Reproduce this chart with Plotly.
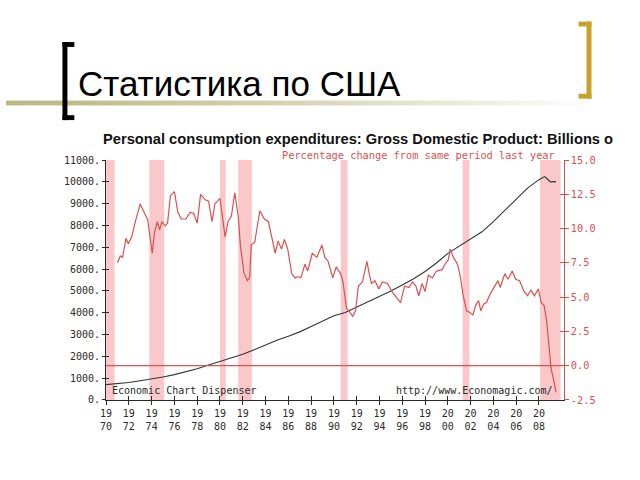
import plotly.graph_objects as go

# ---------------- data ----------------
pce_years = [1970, 1971, 1972, 1973, 1974, 1975, 1976, 1977, 1978, 1979,
             1980, 1981, 1982, 1983, 1984, 1985, 1986, 1987, 1988, 1989,
             1990, 1991, 1992, 1993, 1994, 1995, 1996, 1997, 1998, 1999,
             2000, 2001, 2002, 2003, 2004, 2005, 2006, 2007, 2008.0, 2008.5,
             2008.75, 2009.0, 2009.5]
pce_level = [700, 740, 800, 880, 960, 1050, 1160, 1280, 1430, 1600,
             1760, 1940, 2090, 2300, 2520, 2740, 2920, 3120, 3370, 3620,
             3860, 4010, 4250, 4490, 4760, 4990, 5270, 5560, 5890, 6280,
             6720, 7060, 7360, 7710, 8180, 8690, 9200, 9710, 10100, 10240,
             10130, 10000, 10010]

pct_years = [1971.0, 1971.25, 1971.45, 1971.75, 1971.95, 1972.25, 1972.6, 1973.0,
             1973.5, 1973.65, 1974.05, 1974.25, 1974.5, 1974.7, 1974.9, 1975.2,
             1975.4, 1975.65, 1976.0, 1976.3, 1976.6, 1977.0, 1977.4, 1977.7,
             1978.0, 1978.3, 1978.7, 1979.0, 1979.3, 1979.55, 1980.0, 1980.45,
             1980.7, 1981.0, 1981.3, 1981.6, 1981.8, 1982.1, 1982.4, 1982.6,
             1982.75, 1983.05, 1983.5, 1983.9, 1984.25, 1984.55, 1984.85, 1985.1,
             1985.4, 1985.65, 1985.95, 1986.3, 1986.6, 1986.9, 1987.1, 1987.45,
             1987.7, 1988.1, 1988.5, 1988.95, 1989.2, 1989.5, 1989.9, 1990.2,
             1990.6, 1990.8, 1991.1, 1991.4, 1991.65, 1991.9, 1992.15, 1992.5,
             1992.9, 1993.1, 1993.3, 1993.6, 1993.95, 1994.25, 1994.7, 1995.1,
             1995.5, 1995.85, 1996.2, 1996.6, 1996.9, 1997.2, 1997.45, 1997.75,
             1998.0, 1998.3, 1998.65, 1999.0, 1999.5, 1999.75, 2000.05, 2000.2,
             2000.5, 2000.85, 2001.1, 2001.35, 2001.65, 2001.9, 2002.2, 2002.45,
             2002.7, 2002.9, 2003.15, 2003.4, 2003.7, 2004.1, 2004.4, 2004.6,
             2005.0, 2005.3, 2005.65, 2005.95, 2006.3, 2006.7, 2007.0, 2007.3,
             2007.6, 2007.95, 2008.2, 2008.45, 2008.65, 2008.9, 2009.05, 2009.3,
             2009.5]
pct_change = [7.5, 8.0, 7.9, 9.3, 8.9, 9.4, 10.6, 11.8,
              10.9, 10.7, 8.2, 9.7, 10.5, 9.9, 10.5, 10.2,
              10.4, 12.4, 12.7, 11.2, 10.7, 10.7, 11.2, 11.1,
              10.4, 12.5, 12.1, 12.0, 10.5, 11.8, 12.2, 9.4,
              10.5, 10.9, 12.6, 10.9, 8.7, 6.8, 6.2, 6.4,
              8.8, 9.0, 11.3, 10.7, 10.5, 9.4, 8.2, 9.1,
              8.5, 9.2, 8.5, 6.7, 6.4, 6.5, 6.4, 7.4,
              6.9, 8.2, 7.9, 8.8, 7.9, 7.6, 6.4, 7.2,
              6.7, 6.1, 4.2, 3.9, 3.6, 4.0, 5.8, 6.1,
              7.6, 6.7, 6.0, 6.2, 5.6, 6.1, 6.0, 5.4,
              5.0, 4.6, 5.8, 5.7, 6.1, 5.8, 5.1, 6.0,
              5.4, 6.6, 6.4, 6.9, 7.0, 7.4, 7.75, 8.5,
              7.9, 7.4, 6.5, 5.1, 4.0, 3.9, 3.7, 4.4,
              4.75, 4.0, 4.5, 4.6, 5.2, 5.8, 6.2, 5.7,
              6.7, 6.3, 6.9, 6.3, 6.2, 5.4, 5.1, 5.5,
              5.1, 5.6, 4.6, 4.4, 3.4, 1.3, -0.15, -1.1,
              -1.95]

recession_start = [1970.0, 1973.8, 1980.0, 1981.6, 1990.6, 2001.3, 2008.1]
recession_end = [1970.75, 1975.1, 1980.5, 1982.8, 1991.2, 2001.9, 2009.9]

x_tick_years = list(range(1970, 2010, 2))
x_tick_text = [f"{str(y)[:2]}<br>{str(y)[2:]}" for y in x_tick_years]
left_ticks = list(range(0, 12000, 1000))
left_tick_text = [f"{v}." for v in left_ticks]
right_ticks = [-2.5, 0.0, 2.5, 5.0, 7.5, 10.0, 12.5, 15.0]
right_tick_text = [f"{v:.1f}" for v in right_ticks]

# ---------------- styling ----------------
W, H = 640, 480
RED = "#DC5050"
BAND = "#FAC8C8"
DARK = "#2a2a2a"
MONO = "DejaVu Sans Mono"

def px(x):
    return x / W

def py(y):
    return 1 - y / H

X0, X1 = 101, 563
Y_TOP, Y_BOT = 158, 404

fig = go.Figure()

fig.add_trace(go.Scatter(x=pce_years, y=pce_level, mode="lines",
                         line=dict(color="#333333", width=1.1),
                         xaxis="x", yaxis="y", hoverinfo="skip"))
fig.add_trace(go.Scatter(x=pct_years, y=pct_change, mode="lines",
                         line=dict(color=RED, width=1.2),
                         xaxis="x", yaxis="y2", hoverinfo="skip"))
# empty traces so that the overlay tick axes are drawn
fig.add_trace(go.Scatter(x=[], y=[], xaxis="x2", yaxis="y3", showlegend=False))
fig.add_trace(go.Scatter(x=[], y=[], xaxis="x", yaxis="y4", showlegend=False))

xdom = [px(X0), px(X1)]
ydom = [py(Y_BOT), py(Y_TOP)]
xr = [1970, 1970 + (X1 - X0) / 11.5]

shapes = []
for s, e in zip(recession_start, recession_end):
    shapes.append(dict(type="rect", xref="x", yref="paper", x0=s, x1=e,
                       y0=py(Y_BOT), y1=py(Y_TOP), fillcolor=BAND,
                       line=dict(width=0), layer="below"))

# zero reference line of the percentage axis
shapes.append(dict(type="line", xref="paper", yref="y2", x0=xdom[0], x1=xdom[1],
                   y0=0, y1=0, line=dict(color=RED, width=1.2), layer="above"))

# gradient rule under the title
n = 70
x_end = 600
c0 = (184, 187, 132)
for i in range(n):
    t = i / (n - 1)
    f = min(1.0, t ** 1.3)
    c = tuple(int(round(c0[k] + (255 - c0[k]) * f)) for k in range(3))
    shapes.append(dict(type="rect", xref="paper", yref="paper",
                       x0=px(x_end * i / n), x1=px(x_end * (i + 1) / n + 0.5),
                       y0=py(102), y1=py(97),
                       fillcolor=f"rgb{c}", line=dict(width=0), layer="above"))

# brackets
def bracket(xv, xa, y0, y1, color, t=5):
    return [
        dict(type="rect", xref="paper", yref="paper", x0=px(xv), x1=px(xv + t),
             y0=py(y1), y1=py(y0), fillcolor=color, line=dict(width=0)),
        dict(type="rect", xref="paper", yref="paper", x0=px(min(xv, xa)), x1=px(max(xv + t, xa)),
             y0=py(y0 + t), y1=py(y0), fillcolor=color, line=dict(width=0)),
        dict(type="rect", xref="paper", yref="paper", x0=px(min(xv, xa)), x1=px(max(xv + t, xa)),
             y0=py(y1), y1=py(y1 - t), fillcolor=color, line=dict(width=0)),
    ]

shapes += bracket(57, 69, 37, 117, "#000000")
shapes += bracket(586, 578, 16, 95, "#C9A227")

annotations = [
    dict(text="Статистика по США", x=px(71), y=py(79), xref="paper", yref="paper",
         xanchor="left", yanchor="middle", showarrow=False,
         font=dict(family="Liberation Sans, Arial", size=35, color="#000000")),
    dict(text="<b>Personal consumption expenditures: Gross Domestic Product: Billions o</b>",
         x=px(96), y=py(136), xref="paper", yref="paper",
         xanchor="left", yanchor="middle", showarrow=False,
         font=dict(family="Liberation Sans, Arial", size=14.7, color="#111111")),
    dict(text="Percentage change from same period last year",
         x=px(277), y=py(153), xref="paper", yref="paper",
         xanchor="left", yanchor="middle", showarrow=False,
         font=dict(family=MONO, size=10.3, color=RED)),
    dict(text="Economic Chart Dispenser",
         x=px(105), y=py(394), xref="paper", yref="paper",
         xanchor="left", yanchor="middle", showarrow=False,
         font=dict(family=MONO, size=10, color=DARK)),
    dict(text="http://www.Economagic.com/",
         x=px(392), y=py(394), xref="paper", yref="paper",
         xanchor="left", yanchor="middle", showarrow=False,
         font=dict(family=MONO, size=10, color=DARK)),
]

common_x = dict(domain=xdom, range=xr, showgrid=False, zeroline=False,
                tickvals=x_tick_years, ticklen=4, tickwidth=1)

fig.update_layout(
    width=W, height=H, autosize=False,
    margin=dict(l=0, r=0, t=0, b=0),
    paper_bgcolor="white", plot_bgcolor="rgba(0,0,0,0)",
    showlegend=False,
    xaxis=dict(**common_x, ticktext=x_tick_text, ticks="outside",
               tickcolor=DARK, showline=True, linecolor=DARK, linewidth=1,
               anchor="y", tickfont=dict(family=MONO, size=10, color=DARK)),
    xaxis2=dict(**common_x, ticks="inside", tickcolor=DARK, showticklabels=False,
                showline=False, overlaying="x", anchor="y3"),
    yaxis=dict(domain=ydom, range=[0, 11000], tickvals=left_ticks, ticktext=left_tick_text,
               ticks="outside", ticklen=3, tickcolor=DARK, showline=True, linecolor=DARK,
               linewidth=1, showgrid=False, zeroline=False, anchor="x", side="left",
               tickfont=dict(family=MONO, size=10, color=DARK)),
    yaxis3=dict(domain=ydom, range=[0, 11000], tickvals=left_ticks, ticks="inside",
                ticklen=3, tickcolor=DARK, showticklabels=False, showline=False,
                showgrid=False, zeroline=False, overlaying="y", anchor="x2", side="left"),
    yaxis2=dict(domain=ydom, range=[-2.5, 15], tickvals=right_ticks, ticktext=right_tick_text,
                ticks="outside", ticklen=4, tickcolor=RED, showline=True, linecolor=RED,
                linewidth=1, showgrid=False, zeroline=False, overlaying="y", anchor="x",
                side="right", tickfont=dict(family=MONO, size=10.3, color=RED)),
    yaxis4=dict(domain=ydom, range=[-2.5, 15], tickvals=right_ticks, ticks="inside",
                ticklen=4, tickcolor=RED, showticklabels=False, showline=False,
                showgrid=False, zeroline=False, overlaying="y", anchor="x", side="right"),
    shapes=shapes,
    annotations=annotations,
)

fig.write_html("out.html", post_script="document.body.style.margin='0';")
